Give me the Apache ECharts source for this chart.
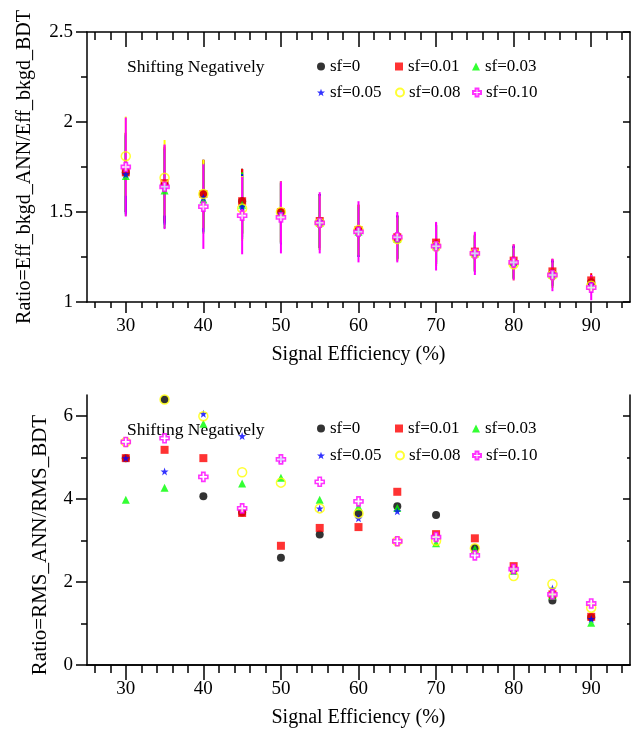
<!DOCTYPE html>
<html>
<head>
<meta charset="utf-8">
<script src="https://cdn.jsdelivr.net/npm/echarts@6/dist/echarts.min.js"></script>
<style>html,body{margin:0;padding:0;background:#fff}#c{width:644px;height:732px}</style>
</head>
<body>
<div id="c"></div>
<script>
// ---------- data ----------
const effX = [30, 35, 40, 45, 50, 55, 60, 65, 70, 75, 80, 85, 90];
const seriesNames = ['sf=0', 'sf=0.01', 'sf=0.03', 'sf=0.05', 'sf=0.08', 'sf=0.10'];

// Top: Ratio = Eff_bkgd_ANN / Eff_bkgd_BDT
const effSf000 = [1.72, 1.65, 1.60, 1.56, 1.50, 1.45, 1.40, 1.36, 1.32, 1.27, 1.22, 1.16, 1.11];
const effSf001 = [1.72, 1.66, 1.60, 1.56, 1.50, 1.45, 1.40, 1.36, 1.33, 1.28, 1.23, 1.17, 1.12];
const effSf003 = [1.70, 1.62, 1.57, 1.54, 1.49, 1.44, 1.39, 1.35, 1.31, 1.27, 1.22, 1.15, 1.09];
const effSf005 = [1.71, 1.64, 1.58, 1.53, 1.49, 1.45, 1.39, 1.36, 1.32, 1.27, 1.22, 1.16, 1.10];
const effSf008 = [1.81, 1.69, 1.60, 1.52, 1.50, 1.44, 1.40, 1.35, 1.31, 1.27, 1.21, 1.15, 1.09];
const effSf010 = [1.75, 1.64, 1.53, 1.48, 1.47, 1.44, 1.39, 1.36, 1.31, 1.27, 1.22, 1.15, 1.08];
// error half-widths
const effErrOthers = [0.22, 0.21, 0.19, 0.18, 0.17, 0.15, 0.14, 0.12, 0.11, 0.10, 0.09, 0.07, 0.04];
const effErrSf010 = [0.275, 0.235, 0.235, 0.215, 0.20, 0.17, 0.17, 0.14, 0.135, 0.12, 0.10, 0.09, 0.07];

// Bottom: Ratio = RMS_ANN / RMS_BDT
const rmsSf000 = [4.98, 6.39, 4.06, 3.67, 2.58, 3.14, 3.65, 3.82, 3.61, 2.81, 2.30, 1.55, 1.15];
const rmsSf001 = [4.98, 5.18, 4.98, 3.66, 2.87, 3.30, 3.32, 4.17, 3.15, 3.05, 2.38, 1.70, 1.16];
const rmsSf003 = [3.98, 4.27, 5.81, 4.37, 4.51, 3.98, 3.81, 3.78, 2.93, 2.79, 2.27, 1.66, 1.02];
const rmsSf005 = [4.98, 4.66, 6.05, 5.51, 4.95, 3.77, 3.53, 3.70, 3.08, 2.71, 2.27, 1.84, 1.11];
const rmsSf008 = [5.37, 6.39, 5.99, 4.64, 4.39, 3.77, 3.65, 2.98, 2.99, 2.81, 2.14, 1.95, 1.38];
const rmsSf010 = [5.37, 5.46, 4.53, 3.77, 4.95, 4.41, 3.94, 2.98, 3.08, 2.64, 2.31, 1.70, 1.48];

// ticks
const xMajorTicks = [30, 40, 50, 60, 70, 80, 90];
const xMinorTicks = [26, 28, 32, 34, 36, 38, 42, 44, 46, 48, 52, 54, 56, 58, 62, 64, 66, 68, 72, 74, 76, 78, 82, 84, 86, 88, 92, 94];
const yTopMajor = [1, 1.5, 2, 2.5];
const yTopMinor = [1.25, 1.75, 2.25];
const yBotMajor = [0, 2, 4, 6];
const yBotMinor = [1, 3, 5];

// ---------- styling ----------
const FONT = 'Liberation Serif';
const colors = ['#000000', '#ff0000', '#00ff00', '#0000ff', '#ffff00', '#ff00ff'];
const STAR = 'path://M0,-10L2.35,-3.24L9.51,-3.09L3.80,1.24L5.88,8.09L0,4L-5.88,8.09L-3.80,1.24L-9.51,-3.09L-2.35,-3.24Z';
const PLUS = 'path://M-3.6,-10L3.6,-10L3.6,-3.6L10,-3.6L10,3.6L3.6,3.6L3.6,10L-3.6,10L-3.6,3.6L-10,3.6L-10,-3.6L-3.6,-3.6Z';
const symbolDefs = [
  { symbol: 'circle', size: 8, itemStyle: { color: '#000' } },
  { symbol: 'rect', size: 8, itemStyle: { color: '#ff0000' } },
  { symbol: 'triangle', size: 8, itemStyle: { color: '#00ff00' } },
  { symbol: STAR, size: 8, itemStyle: { color: '#0000ff' } },
  { symbol: 'circle', size: 9, itemStyle: { color: 'rgba(255,255,255,0)', borderColor: '#ffff00', borderWidth: 1.5 } },
  { symbol: PLUS, size: 9, itemStyle: { color: '#ffffff', borderColor: '#ff00ff', borderWidth: 1.6 } }
];

const grids = [
  { left: 87, top: 32, width: 543, height: 270 },
  { left: 87, top: 395, width: 543, height: 270 }
];

const lineStyle = { color: '#000', width: 1.5 };

function xAxes(gi) {
  const base = { type: 'value', gridIndex: gi, min: 25, max: 95, splitLine: { show: false } };
  return [
    Object.assign({}, base, {
      position: 'bottom',
      axisLine: { show: true, lineStyle },
      axisTick: { show: true, inside: false, length: 11, lineStyle, customValues: xMajorTicks },
      axisLabel: { show: true, margin: 15, customValues: xMajorTicks, fontFamily: FONT, fontSize: 19, color: '#000' },
      name: 'Signal Efficiency (%)', nameLocation: 'middle', nameGap: 43,
      nameTextStyle: { fontFamily: FONT, fontSize: 20, color: '#000' }
    }),
    Object.assign({}, base, {
      position: 'bottom',
      axisLine: { show: false },
      axisTick: { show: true, inside: false, length: 6, lineStyle, customValues: xMinorTicks },
      axisLabel: { show: false }
    }),
    Object.assign({}, base, {
      position: 'top',
      axisLine: { show: true, lineStyle },
      axisTick: { show: true, inside: true, length: 15, lineStyle, customValues: xMajorTicks },
      axisLabel: { show: false }
    }),
    Object.assign({}, base, {
      position: 'top',
      axisLine: { show: false },
      axisTick: { show: true, inside: true, length: 8, lineStyle, customValues: xMinorTicks },
      axisLabel: { show: false }
    })
  ];
}

function yAxes(gi, min, max, major, minor, title, gap, titleSize, titlePad) {
  const base = { type: 'value', gridIndex: gi, min: min, max: max, splitLine: { show: false } };
  return [
    Object.assign({}, base, {
      position: 'left',
      axisLine: { show: true, lineStyle },
      axisTick: { show: true, inside: false, length: 11, lineStyle, customValues: major },
      axisLabel: { show: true, margin: 14, customValues: major, fontFamily: FONT, fontSize: 19, color: '#000' },
      name: title, nameLocation: 'middle', nameGap: gap,
      nameTextStyle: { fontFamily: FONT, fontSize: titleSize, color: '#000', padding: titlePad }
    }),
    Object.assign({}, base, {
      position: 'left',
      axisLine: { show: false },
      axisTick: { show: true, inside: false, length: 6, lineStyle, customValues: minor },
      axisLabel: { show: false }
    }),
    Object.assign({}, base, {
      position: 'right',
      axisLine: { show: true, lineStyle },
      axisTick: { show: true, inside: true, length: 7, lineStyle, customValues: major },
      axisLabel: { show: false }
    }),
    Object.assign({}, base, {
      position: 'right',
      axisLine: { show: false },
      axisTick: { show: true, inside: true, length: 3, lineStyle, customValues: minor },
      axisLabel: { show: false }
    })
  ];
}

const effSets = [effSf000, effSf001, effSf003, effSf005, effSf008, effSf010];
const effErrSets = [effErrOthers, effErrOthers, effErrOthers, effErrOthers, effErrOthers, effErrSf010];
const rmsSets = [rmsSf000, rmsSf001, rmsSf003, rmsSf005, rmsSf008, rmsSf010];

function errRender(params, api) {
  const x = api.value(0);
  const p1 = api.coord([x, api.value(1)]);
  const p2 = api.coord([x, api.value(2)]);
  return {
    type: 'line',
    shape: { x1: p1[0], y1: p1[1], x2: p2[0], y2: p2[1] },
    style: { stroke: api.visual('color'), lineWidth: 2 }
  };
}

const series = [];
// error bars (top)
effSets.forEach((vals, i) => {
  const err = effErrSets[i];
  series.push({
    type: 'custom', name: 'err ' + seriesNames[i],
    xAxisIndex: 0, yAxisIndex: 0, z: 2,
    itemStyle: { color: colors[i] },
    renderItem: errRender,
    data: effX.map((x, k) => [x, vals[k] - err[k], vals[k] + err[k]]),
    silent: true
  });
});
// points (top)
effSets.forEach((vals, i) => {
  series.push({
    type: 'scatter', name: seriesNames[i],
    xAxisIndex: 0, yAxisIndex: 0, z: 5 + i,
    symbol: symbolDefs[i].symbol, symbolSize: symbolDefs[i].size,
    itemStyle: symbolDefs[i].itemStyle,
    data: effX.map((x, k) => [x, vals[k]])
  });
});
// points (bottom)
rmsSets.forEach((vals, i) => {
  series.push({
    type: 'scatter', name: seriesNames[i],
    xAxisIndex: 4, yAxisIndex: 4, z: 5 + i,
    symbol: symbolDefs[i].symbol, symbolSize: symbolDefs[i].size,
    itemStyle: symbolDefs[i].itemStyle,
    data: effX.map((x, k) => [x, vals[k]])
  });
});

// legends: 2 rows x 3 columns per panel
const legendCols = [317, 395, 472];
const legendRows = [[67, 93], [429, 456]];
const legends = [];
legendRows.forEach(rows => {
  rows.forEach((cy, r) => {
    for (let c = 0; c < 3; c++) {
      legends.push({
        data: [seriesNames[r * 3 + c]],
        left: legendCols[c], top: cy - 9,
        orient: 'horizontal', padding: 0,
        itemWidth: 8, itemHeight: 8,
        selectedMode: false,
        textStyle: { fontFamily: FONT, fontSize: 17, color: '#000' }
      });
    }
  });
});

const titleStyle = { fontFamily: FONT, fontSize: 17.5, fontWeight: 'normal', color: '#000' };
const option = {
  animation: false,
  backgroundColor: '#fff',
  title: [
    { text: 'Shifting Negatively', left: 127, top: 58, padding: 0, textStyle: titleStyle },
    { text: 'Shifting Negatively', left: 127, top: 421, padding: 0, textStyle: titleStyle }
  ],
  legend: legends,
  grid: grids,
  xAxis: xAxes(0).concat(xAxes(1)),
  yAxis: yAxes(0, 1, 2.5, yTopMajor, yTopMinor, 'Ratio=Eff_bkgd_ANN/Eff_bkgd_BDT', 52, 20, 0)
    .concat(yAxes(1, 0, 6.5, yBotMajor, yBotMinor, 'Ratio=RMS_ANN/RMS_BDT', 36, 21, [0, 30, 0, 0])),
  series: series
};

const chart = echarts.init(document.getElementById('c'), null, { renderer: 'canvas' });
chart.setOption(option);
</script>
</body>
</html>
